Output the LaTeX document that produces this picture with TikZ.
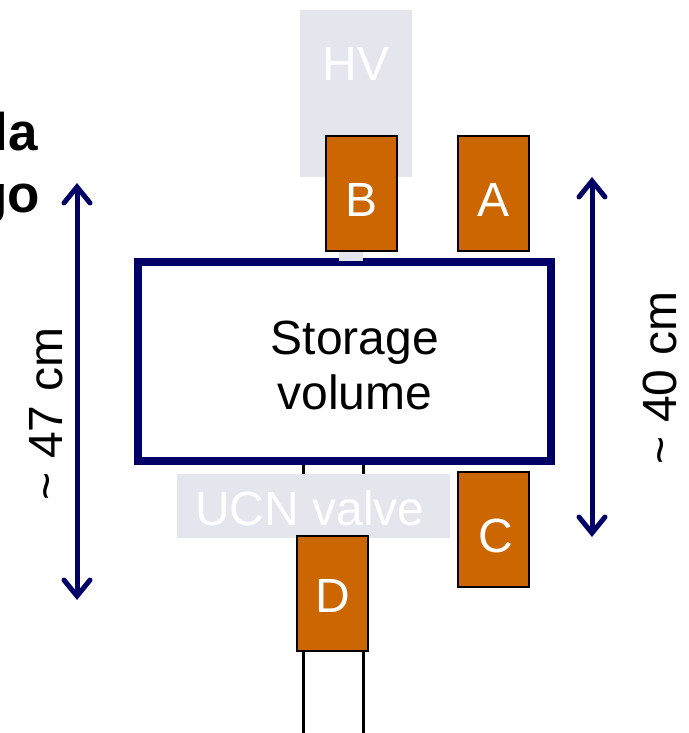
\documentclass[tikz,border=0pt]{standalone}
\usepackage{fontspec}
\setmainfont{Liberation Sans}
\usetikzlibrary{arrows.meta}
\definecolor{navy}{HTML}{000066}
\definecolor{lgray}{HTML}{E5E5EE}
\definecolor{orng}{HTML}{CC6600}
\tikzset{
  big/.style={font=\fontsize{48}{55}\selectfont},
  graybox/.style={fill=lgray, draw=none, inner sep=0pt, text=white, big},
  detbox/.style={fill=orng, draw=black, line width=2.5pt, inner sep=0pt,
    minimum width=71pt, minimum height=115pt},
  detlabel/.style={text=white, big, inner sep=0pt},
  dimarrow/.style={draw=navy, line width=5pt,
    {Straight Barb[length=16pt,width=26pt,line cap=round]}-{Straight Barb[length=16pt,width=26pt,line cap=round]}},
  tube/.style={draw=black, line width=3pt},
  clipped/.style={font=\fontsize{53}{60}\selectfont\bfseries, inner sep=0pt}
}
\begin{document}
\begin{tikzpicture}[x=1pt,y=-1pt]
\useasboundingbox (0,0) rectangle (688,733);
% clipped title fragments
\node[clipped, anchor=base east] (t1) at (38,150) {la};
\node[clipped, anchor=base east] (t2) at (40,212) {go};
% HV
\node[graybox, minimum width=112pt, minimum height=167pt, anchor=north west] (hv) at (300,10) {};
\node[graybox, fill=none] (hvt) at (356,64) {HV};
% tubes
\coordinate (tl) at (303,733);
\coordinate (tr) at (363,733);
% storage
\node[draw=navy, line width=8pt, minimum width=413pt, minimum height=199pt, inner sep=0pt] (st) at (344.5,361.5) {};
\node[big, align=center, inner sep=0pt] (stt) at (355,365) {Storage\\volume};
\draw[tube] (st.south -| tl) -- (tl);
\draw[tube] (st.south -| tr) -- (tr);
% small connector
\node[fill=lgray, minimum width=24pt, minimum height=10pt, inner sep=0pt, anchor=north] (cn) at (351,251) {};
% detectors
\node[detbox] (B) at (361.5,193.5) {};
\node[detlabel] (Bt) at (361.5,200) {B};
\node[detbox] (A) at (493.5,193.5) {};
\node[detlabel] (At) at (493.5,200) {A};
% valve
\node[graybox, minimum width=273pt, minimum height=64pt, anchor=north west] (uv) at (177,474) {};
\node[graybox, fill=none] (uvt) at (310,508) {UCN valve};
\node[detbox] (C) at (493.5,529.5) {};
\node[detlabel] (Ct) at (496,536) {C};
\node[detbox] (D) at (332.5,593.5) {};
\node[detlabel] (Dt) at (333,596) {D};
% dimension arrows
\coordinate (l1) at (77,183);
\coordinate (l2) at (77,600);
\draw[dimarrow] (l1) -- (l2);
\node[big, rotate=90] (l47) at (46,414) {\~{} 47 cm};
\coordinate (r1) at (592,177);
\coordinate (r2) at (592,537);
\draw[dimarrow] (r1) -- (r2);
\node[big, rotate=90] (r40) at (660,378) {\~{} 40 cm};
\end{tikzpicture}
\end{document}
